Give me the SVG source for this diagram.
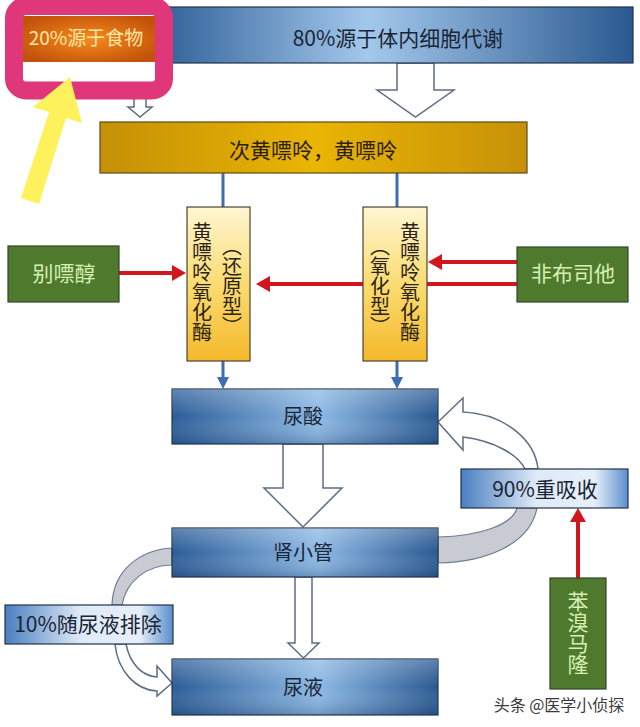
<svg xmlns="http://www.w3.org/2000/svg" width="640" height="727" viewBox="0 0 640 727">
<defs>
<linearGradient id="gBlue" x1="0" y1="0" x2="1" y2="0">
<stop offset="0" stop-color="#2b5c97"/><stop offset="0.55" stop-color="#8cb9e5"/><stop offset="1" stop-color="#295891"/>
</linearGradient>
<linearGradient id="gTop" x1="0" y1="0" x2="1" y2="0">
<stop offset="0" stop-color="#2c5c95"/><stop offset="0.45" stop-color="#a3c8ec"/><stop offset="1" stop-color="#2a5990"/>
</linearGradient>
<linearGradient id="gShade" x1="0" y1="0" x2="0" y2="1">
<stop offset="0" stop-color="#ffffff" stop-opacity="0.25"/><stop offset="0.5" stop-color="#ffffff" stop-opacity="0"/><stop offset="1" stop-color="#0d2a55" stop-opacity="0.25"/>
</linearGradient>
<linearGradient id="gLight" x1="0" y1="0" x2="1" y2="0">
<stop offset="0" stop-color="#4a7fc0"/><stop offset="0.45" stop-color="#dfeaf7"/><stop offset="0.8" stop-color="#e6eff9"/><stop offset="1" stop-color="#5a8ecb"/>
</linearGradient>
<linearGradient id="gGold" x1="0" y1="0" x2="1" y2="0">
<stop offset="0" stop-color="#c49006"/><stop offset="0.5" stop-color="#eab503"/><stop offset="1" stop-color="#c69108"/>
</linearGradient>
<linearGradient id="gEnz" x1="0" y1="0" x2="0" y2="1">
<stop offset="0" stop-color="#fff6d2"/><stop offset="0.5" stop-color="#fbdc72"/><stop offset="1" stop-color="#f4b82a"/>
</linearGradient>
<radialGradient id="gOrange" cx="0.5" cy="0.5" r="0.6">
<stop offset="0" stop-color="#f78b1e"/><stop offset="1" stop-color="#c2520a"/>
</radialGradient>
<style>
.t{font-family:"Noto Sans CJK SC","Noto Sans",sans-serif;text-anchor:middle}
.dark{fill:#1b2536}
.grn{fill:#4f7a2e;stroke:#33452a;stroke-width:1.2}
.gt{fill:#d6f0b2;font-size:21px}
.box{stroke:#22324a;stroke-width:1.2}
.enz{fill:url(#gEnz);stroke:#4a4430;stroke-width:1.2}
.vt{writing-mode:vertical-rl;text-anchor:start;font-size:20px;fill:#2a2418}
.hol{fill:#ffffff;stroke:#5d6d84;stroke-width:1.5}
.band{fill:#c8cbd2;stroke:#6c7d95;stroke-width:1.2}
.red{stroke:#d2161e;stroke-width:4;fill:none}
.rh{fill:#d2161e}
.bl{stroke:#3e6db3;stroke-width:3;fill:none}
.bh{fill:#3e6db3}
</style>
</defs>
<rect width="640" height="727" fill="#ffffff"/>

<g id="connectors">
<line class="bl" x1="223" y1="173" x2="223" y2="207"/>
<line class="bl" x1="397" y1="173" x2="397" y2="207"/>
<line class="bl" x1="223" y1="361" x2="223" y2="379"/>
<polygon class="bh" points="217,377 229,377 223,389"/>
<line class="bl" x1="397" y1="361" x2="397" y2="379"/>
<polygon class="bh" points="391,377 403,377 397,389"/>
<line class="red" x1="119" y1="273" x2="174" y2="273"/>
<polygon class="rh" points="172,265 186,273 172,281"/>
<line class="red" x1="517" y1="262" x2="440" y2="262"/>
<polygon class="rh" points="442,254 428,262 442,270"/>
<line class="red" x1="517" y1="284" x2="268" y2="284"/>
<polygon class="rh" points="270,276 256,284 270,292"/>
<line class="red" x1="578" y1="578" x2="578" y2="520"/>
<polygon class="rh" points="570,522 578,508 586,522"/>
<polygon class="hol" points="134,62 146,62 146,107 152,107 140,117 128,107 134,107"/>
<polygon class="hol" points="397,63 434,63 434,90 454,90 415.5,117 377,90 397,90"/>
<polygon class="hol" points="283,444 323,444 323,488 342,488 303,527 264,488 283,488"/>
<polygon class="hol" points="295,577 312,577 312,643 319,643 303.5,658 288,643 295,643"/>
<path class="band" d="M172,548 C140,550 113,570 112,605 L122,605 C126,582 146,565 172,565 Z"/>
<path class="hol" d="M115,644 C118,672 136,690 157,691 L157,696 L172,683 L157,666 L157,677 C142,676 130,664 126,644 Z"/>
<path class="band" d="M517,508 C512,525 480,536 438,537 L438,563 C485,562 530,545 537,508 Z"/>
<path class="hol" d="M538,469 C535,440 505,414 463,412 L463,398 L438,422 L463,450 L463,437 C495,441 518,455 525,469 Z"/>
</g>

<g id="n-cell">
<rect x="150" y="7" width="483" height="56" fill="url(#gTop)" class="box"/>
<text class="t dark" x="398" y="46" font-size="21">80%源于体内细胞代谢</text>
</g>

<g id="n-highlight">
<rect x="14" y="6" width="150" height="84.5" rx="12" fill="#ffffff" stroke="#e0377b" stroke-width="18"/>
</g>

<g id="n-food">
<rect x="23" y="16" width="132" height="46" fill="url(#gOrange)"/>
<text class="t" x="86" y="45" font-size="19" fill="#ffe9a6">20%源于食物</text>
</g>

<g id="n-yellow">
<polygon points="70,77 33,107 49,112 21,198 39,204 66,118 82,123" fill="#fdf25c"/>
</g>

<g id="n-purine">
<rect x="100" y="122" width="427" height="51" fill="url(#gGold)" stroke="#5c4a1e" stroke-width="1.2"/>
<text class="t" x="313" y="158" font-size="21" fill="#2a2010">次黄嘌呤，黄嘌呤</text>
</g>

<g id="n-enz-red">
<rect class="enz" x="187" y="207" width="63" height="154"/>
<text class="t vt" x="202" y="222">黄嘌呤氧化酶</text>
<text class="t vt" x="232" y="236">（还原型）</text>
</g>

<g id="n-enz-ox">
<rect class="enz" x="363" y="207" width="64" height="154"/>
<text class="t vt" x="380" y="236">（氧化型）</text>
<text class="t vt" x="410" y="222">黄嘌呤氧化酶</text>
</g>

<g id="n-allopurinol">
<rect class="grn" x="8" y="246" width="111" height="56"/>
<text class="t gt" x="64" y="281">别嘌醇</text>
</g>

<g id="n-febuxostat">
<rect class="grn" x="517" y="247" width="111" height="55"/>
<text class="t gt" x="573" y="281">非布司他</text>
</g>

<g id="n-uric">
<rect x="172" y="389" width="266" height="55" fill="url(#gBlue)" class="box"/>
<rect x="172" y="389" width="266" height="55" fill="url(#gShade)"/>
<text class="t dark" x="303" y="424" font-size="20">尿酸</text>
</g>

<g id="n-tubule">
<rect x="172" y="528" width="266" height="49" fill="url(#gBlue)" class="box"/>
<rect x="172" y="528" width="266" height="49" fill="url(#gShade)"/>
<text class="t dark" x="303" y="560" font-size="20">肾小管</text>
</g>

<g id="n-urine">
<rect x="172" y="659" width="266" height="56" fill="url(#gBlue)" class="box"/>
<rect x="172" y="659" width="266" height="56" fill="url(#gShade)"/>
<text class="t dark" x="303" y="695" font-size="20">尿液</text>
</g>

<g id="n-excrete">
<rect x="5" y="605" width="168" height="39" fill="url(#gLight)" class="box"/>
<text class="t dark" x="88" y="632" font-size="21">10%随尿液排除</text>
</g>

<g id="n-reabsorb">
<rect x="461" y="469" width="167" height="39" fill="url(#gLight)" class="box"/>
<text class="t dark" x="545" y="497" font-size="21">90%重吸收</text>
</g>

<g id="n-benzbromarone">
<rect class="grn" x="550" y="578" width="56" height="111"/>
<text class="t gt vt" x="578" y="591" style="fill:#d6f0b2;font-size:21px">苯溴马隆</text>
</g>

<g id="watermark">
<text class="t" x="559" y="711" font-size="16" fill="#3a3a3a">头条 @医学小侦探</text>
</g>
</svg>
